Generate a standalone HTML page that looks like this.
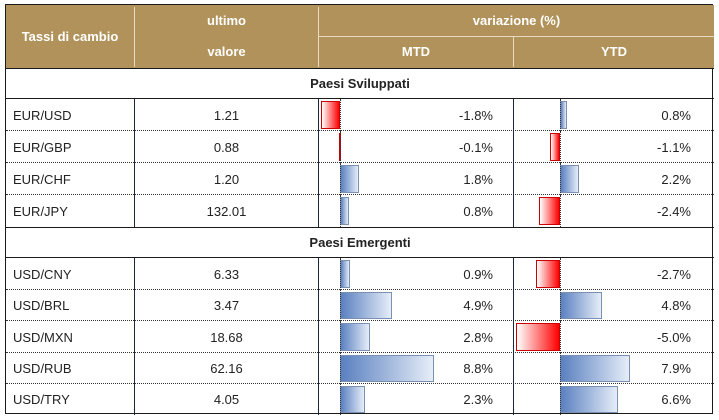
<!DOCTYPE html>
<html><head><meta charset="utf-8"><style>
body{margin:0;width:719px;height:420px;background:#fff;font-family:"Liberation Sans",sans-serif;overflow:hidden}
#t{position:absolute;left:5px;top:4px;width:708px;height:410px;border:1px solid #1a1a1a;box-sizing:border-box}
.a{position:absolute;box-sizing:border-box}
.h{background:#b0925a;color:#fff;font-weight:bold;font-size:13px;display:flex;align-items:center;justify-content:center}
.c{font-size:13px;color:#222;display:flex;align-items:center}
</style></head><body>
<div id="t"></div>
<script>
const pairs=["EUR/USD","EUR/GBP","EUR/CHF","EUR/JPY","USD/CNY","USD/BRL","USD/MXN","USD/RUB","USD/TRY"];
const lastVals=["1.21","0.88","1.20","132.01","6.33","3.47","18.68","62.16","4.05"];
const mtd=[-1.8,-0.1,1.8,0.8,0.9,4.9,2.8,8.8,2.3];
const ytd=[0.8,-1.1,2.2,-2.4,-2.7,4.8,-5.0,7.9,6.6];
const sections=["Paesi Sviluppati","Paesi Emergenti"];
const T=document.getElementById('t');
function box(x,y,w,h,cls,txt,name){const d=document.createElement('div');d.className='a '+(cls||'');
d.style.left=(x-5)+'px';d.style.top=(y-4)+'px';d.style.width=w+'px';d.style.height=h+'px';
if(txt!=null)d.textContent=txt;


T.appendChild(d);return d;}
// header
box(5,4,708,63,'h',null,'header-bg');
let e=box(5,4,128,63,'h','Tassi di cambio','header-tassi');
e=box(134,4,183,31,'h','ultimo','header-ultimo');
e=box(134,35,183,31,'h','valore','header-valore');
e=box(318,4,395,31,'h','variazione (%)','header-variazione');
e=box(318,35,194,31,'h','MTD','header-mtd');
e=box(513,35,200,31,'h','YTD','header-ytd');
box(133,6,1,60,'',null,'header-divider').style.background='#e8dcc0';
box(317,6,1,60,'',null,'header-divider').style.background='#e8dcc0';
box(318,35,395,1,'',null,'header-divider').style.background='#e8dcc0';
box(512,36,1,30,'',null,'header-divider').style.background='#e8dcc0';
const rowsY=[98,130,162,194,257,289,320,352,383];
const rowH=[32,32,32,32,32,31,32,31,31];
const secY=[67,226];
sections.forEach((s,i)=>{const d=box(5,secY[i],708,31,'c',s,'section-'+i);d.style.justifyContent='center';d.style.fontWeight='bold';
d.style.borderTop='1px solid #1a1a1a';d.style.borderBottom='1px solid #1a1a1a';});
const MZ=339,MS=10.7,YZ=559,YS=8.8;
function bar(z,s,v,y,h,name){const w=Math.abs(v)*s;const x=v<0?z-w:z;
const b=box(x,y+2,Math.max(w,1),h-4,'',null,name);
if(v<0){b.style.background='linear-gradient(to right,#fff,#f00)';b.style.border='1px solid #c00';}
else{b.style.background='linear-gradient(to right,#5a80c0,#e6edf8)';b.style.border='1px solid #7a90b0';}}
pairs.forEach((p,i)=>{const y=rowsY[i],h=rowH[i];
if(i!==3&&i!==8){const l=box(5,y+h-1,708,1,'',null,'row-separator');l.style.borderTop='1px dotted #333';}
let d=box(12,y,120,h,'c',p,'pair-label');
d=box(134,y,183,h,'c',lastVals[i],'last-value');d.style.justifyContent='center';
bar(MZ,MS,mtd[i],y,h,'mtd-bar');
bar(YZ,YS,ytd[i],y,h,'ytd-bar');
let z=box(MZ,y,0,h,'',null,'mtd-zero');z.style.borderLeft='1px dotted #333';
z=box(YZ,y,0,h,'',null,'ytd-zero');z.style.borderLeft='1px dotted #333';
d=box(318,y,174,h,'c',mtd[i].toFixed(1)+'%','mtd-value');d.style.justifyContent='flex-end';
d=box(513,y,177,h,'c',ytd[i].toFixed(1)+'%','ytd-value');d.style.justifyContent='flex-end';
});
[[98,128],[257,157]].forEach(([y,h])=>{[133,317,512].forEach(x=>{box(x,y,1,h,'',null,'col-divider').style.background='#1a2a3a';});});
</script>
</body></html>
